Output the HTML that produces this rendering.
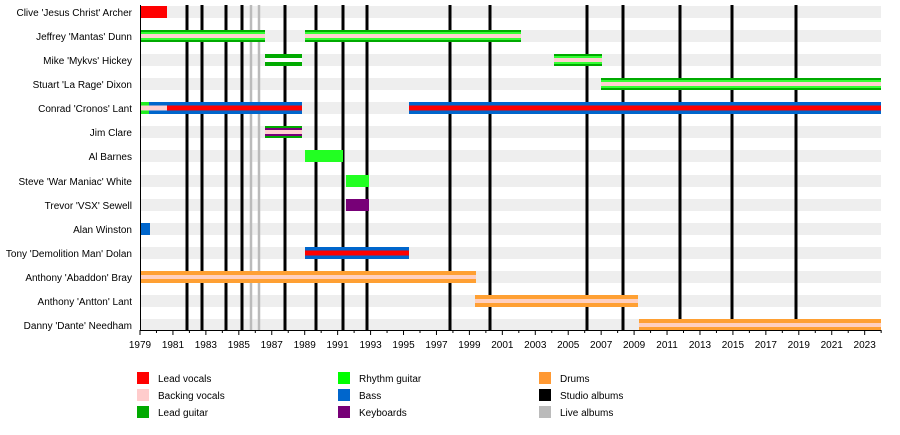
<!DOCTYPE html>
<html><head><meta charset="utf-8"><style>
body{margin:0;background:#fff;width:900px;height:430px;overflow:hidden}
svg text{font-family:"Liberation Sans",sans-serif;font-size:10px;fill:#000}
</style></head><body>
<svg width="900" height="430" xmlns="http://www.w3.org/2000/svg">
<g fill="#eeeeee">
<rect x="140" y="6" width="741" height="12"/><rect x="140" y="30" width="741" height="12"/>
<rect x="140" y="54" width="741" height="12"/><rect x="140" y="78" width="741" height="12"/>
<rect x="140" y="102" width="741" height="12"/><rect x="140" y="126" width="741" height="12"/>
<rect x="140" y="150" width="741" height="12"/><rect x="140" y="175" width="741" height="12"/>
<rect x="140" y="199" width="741" height="12"/><rect x="140" y="223" width="741" height="12"/>
<rect x="140" y="247" width="741" height="12"/><rect x="140" y="271" width="741" height="12"/>
<rect x="140" y="295" width="741" height="12"/><rect x="140" y="319" width="741" height="12"/>
</g>
<g stroke="#bbbbbb" stroke-width="2.5">
<line x1="251" y1="5" x2="251" y2="330"/><line x1="259" y1="5" x2="259" y2="330"/>
</g>
<g stroke="#000" stroke-width="3">
<line x1="187" y1="5" x2="187" y2="330"/><line x1="202" y1="5" x2="202" y2="330"/>
<line x1="226" y1="5" x2="226" y2="330"/><line x1="242" y1="5" x2="242" y2="330"/>
<line x1="285" y1="5" x2="285" y2="330"/><line x1="316" y1="5" x2="316" y2="330"/>
<line x1="343" y1="5" x2="343" y2="330"/><line x1="367" y1="5" x2="367" y2="330"/>
<line x1="450" y1="5" x2="450" y2="330"/><line x1="490" y1="5" x2="490" y2="330"/>
<line x1="587" y1="5" x2="587" y2="330"/><line x1="623" y1="5" x2="623" y2="330"/>
<line x1="680" y1="5" x2="680" y2="330"/><line x1="732" y1="5" x2="732" y2="330"/>
<line x1="796" y1="5" x2="796" y2="330"/>
</g>
<defs>
<g id="gtr"><rect x="0" y="0" width="1" height="12" fill="#00aa00"/><rect x="0" y="2" width="1" height="8" fill="#33ff33"/><rect x="0" y="4" width="1" height="4" fill="#ffd0d0"/></g>
</defs>
<rect x="140" y="6" width="27" height="12" fill="#ff0000"/>
<g transform="translate(140,30)"><use href="#gtr" transform="scale(125,1)"/></g>
<g transform="translate(305,30)"><use href="#gtr" transform="scale(216,1)"/></g>
<rect x="265" y="54" width="37" height="12" fill="#00aa00"/><rect x="265" y="58" width="37" height="4" fill="#ffffff"/>
<g transform="translate(554,54)"><use href="#gtr" transform="scale(48,1)"/></g>
<g transform="translate(601,78)"><use href="#gtr" transform="scale(280,1)"/></g>
<rect x="140" y="102" width="162" height="12" fill="#0066cc"/>
<rect x="140" y="102" width="9" height="12" fill="#22ee22"/>
<rect x="140" y="105.5" width="27" height="5" fill="#ffd0d0"/>
<rect x="167" y="105.5" width="135" height="5" fill="#ff0000"/>
<rect x="409" y="102" width="472" height="12" fill="#0066cc"/><rect x="409" y="105.5" width="472" height="5" fill="#ff0000"/>
<rect x="265" y="126" width="37" height="12" fill="#00aa00"/><rect x="265" y="128" width="37" height="8" fill="#770077"/><rect x="265" y="130" width="37" height="4" fill="#ffd0d0"/>
<rect x="305" y="150" width="38" height="12" fill="#22ff22"/>
<rect x="346" y="175" width="23" height="12" fill="#22ff22"/>
<rect x="346" y="199" width="23" height="12" fill="#770077"/>
<rect x="140" y="223" width="10" height="12" fill="#0066cc"/>
<rect x="305" y="247" width="104" height="12" fill="#0066cc"/><rect x="305" y="250.5" width="104" height="5" fill="#ff0000"/>
<rect x="140" y="271" width="336" height="12" fill="#ffa033"/><rect x="140" y="275" width="336" height="4" fill="#ffd0c0"/>
<rect x="475" y="295" width="163" height="12" fill="#ffa033"/><rect x="475" y="299" width="163" height="4" fill="#ffd0c0"/>
<rect x="639" y="319" width="242" height="12" fill="#ffa033"/><rect x="639" y="323" width="242" height="4" fill="#ffd0c0"/>
<g text-anchor="end">
<text x="132" y="16">Clive 'Jesus Christ' Archer</text>
<text x="132" y="40">Jeffrey 'Mantas' Dunn</text>
<text x="132" y="64">Mike 'Mykvs' Hickey</text>
<text x="132" y="88">Stuart 'La Rage' Dixon</text>
<text x="132" y="112">Conrad 'Cronos' Lant</text>
<text x="132" y="136">Jim Clare</text>
<text x="132" y="160">Al Barnes</text>
<text x="132" y="185">Steve 'War Maniac' White</text>
<text x="132" y="209">Trevor 'VSX' Sewell</text>
<text x="132" y="233">Alan Winston</text>
<text x="132" y="257">Tony 'Demolition Man' Dolan</text>
<text x="132" y="281">Anthony 'Abaddon' Bray</text>
<text x="132" y="305">Anthony 'Antton' Lant</text>
<text x="132" y="329">Danny 'Dante' Needham</text>
</g>
<line x1="140" y1="330.5" x2="881" y2="330.5" stroke="#000" stroke-width="1"/>
<line x1="140.5" y1="5" x2="140.5" y2="331" stroke="#000" stroke-width="1"/>
<g stroke="#000" stroke-width="1" id="ticks"></g>
<g text-anchor="middle" id="tl"></g>
<rect x="137" y="372" width="12" height="12" fill="#ff0000"/><text x="158" y="382">Lead vocals</text>
<rect x="137" y="389" width="12" height="12" fill="#ffcccc"/><text x="158" y="399">Backing vocals</text>
<rect x="137" y="406" width="12" height="12" fill="#00aa00"/><text x="158" y="416">Lead guitar</text>
<rect x="338" y="372" width="12" height="12" fill="#00ff00"/><text x="359" y="382">Rhythm guitar</text>
<rect x="338" y="389" width="12" height="12" fill="#0066cc"/><text x="359" y="399">Bass</text>
<rect x="338" y="406" width="12" height="12" fill="#770077"/><text x="359" y="416">Keyboards</text>
<rect x="539" y="372" width="12" height="12" fill="#ff9933"/><text x="560" y="382">Drums</text>
<rect x="539" y="389" width="12" height="12" fill="#000000"/><text x="560" y="399">Studio albums</text>
<rect x="539" y="406" width="12" height="12" fill="#bbbbbb"/><text x="560" y="416">Live albums</text>
</svg>
<script>
var ns="http://www.w3.org/2000/svg",t=document.getElementById("ticks"),l=document.getElementById("tl");
for(var y=1979;y<=2024;y++){var x=140+(y-1979)*16.47;var e=document.createElementNS(ns,"line");
e.setAttribute("x1",x);e.setAttribute("x2",x);e.setAttribute("y1",330);e.setAttribute("y2",(y%2)?335:333);t.appendChild(e);
if(y%2&&y<=2023){var s=document.createElementNS(ns,"text");s.setAttribute("x",x);s.setAttribute("y",348);s.textContent=y;l.appendChild(s);}}
</script>
</body></html>
